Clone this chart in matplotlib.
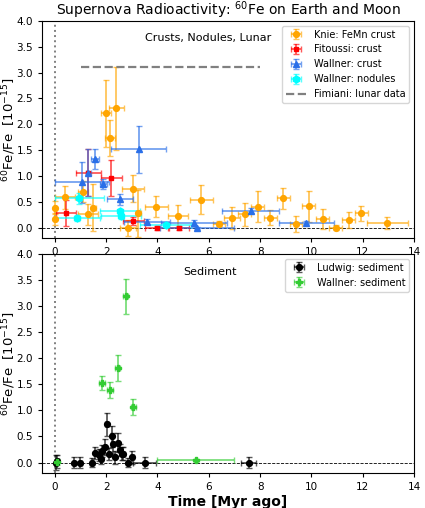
import matplotlib
matplotlib.use("Agg")
import matplotlib.pyplot as plt

# --- crusts / nodules / lunar ---
knie_t = [0.0, 0.0, 0.4, 1.1, 1.3, 1.5, 2.0, 2.15, 2.4, 2.85, 3.05, 3.25, 3.95, 4.8, 5.7,
          6.4, 6.9, 7.4, 7.9, 8.4, 8.9, 9.4, 9.9, 10.45, 10.95, 11.45, 11.95, 12.95]
knie_terr = [0.05, 0.05, 0.4, 0.2, 0.4, 0.1, 0.2, 0.2, 0.3, 0.3, 0.42, 0.1, 0.45, 0.4, 0.45,
             0.25, 0.3, 0.25, 0.25, 0.25, 0.25, 0.25, 0.25, 0.25, 0.25, 0.25, 0.25, 0.8]
knie_y = [0.39, 0.17, 0.59, 0.70, 0.26, 0.39, 2.21, 1.73, 2.31, 0.0, 0.76, 0.28, 0.41, 0.23, 0.54,
          0.08, 0.19, 0.26, 0.41, 0.20, 0.57, 0.08, 0.42, 0.17, 0.0, 0.15, 0.28, 0.10]
knie_yerr = [0.12, 0.12, 0.22, 0.2, 0.2, 0.45, 0.65, 0.35, 0.8, 0.15, 0.26, 0.45, 0.2, 0.22, 0.28,
             0.05, 0.22, 0.22, 0.3, 0.15, 0.2, 0.15, 0.3, 0.2, 0.05, 0.15, 0.15, 0.12]

fit_t = [0.43, 1.31, 2.2, 3.06, 3.97, 4.84]
fit_terr = [0.4, 0.47, 0.42, 0.42, 0.45, 0.4]
fit_y = [0.28, 1.07, 0.97, 0.14, 0.0, 0.0]
fit_yerr = [0.25, 0.45, 0.35, 0.08, 0.04, 0.04]

wcr_t = [1.05, 1.3, 1.57, 1.89, 2.54, 3.26, 3.58, 5.42, 5.55, 7.63, 9.8]
wcr_terr = [1.05, 0.1, 0.15, 0.15, 0.49, 1.09, 0.9, 1.3, 1.45, 1.1, 1.08]
wcr_y = [0.88, 1.07, 1.33, 0.85, 0.55, 1.52, 0.12, 0.10, 0.0, 0.33, 0.10]
wcr_yerr = [0.4, 0.45, 0.2, 0.1, 0.1, 0.45, 0.05, 0.05, 0.02, 0.05, 0.03]

wnod_t = [0.95, 0.88, 2.54, 2.57, 4.32]
wnod_terr = [0.95, 0.88, 0.78, 0.78, 1.0]
wnod_y = [0.57, 0.19, 0.32, 0.23, 0.06]
wnod_yerr = [0.1, 0.05, 0.05, 0.05, 0.03]

lunar_t = [1.0, 8.0]
lunar_y = 3.1

# --- sediment ---
lud_t = [0.05, 0.1, 0.75, 0.99, 1.43, 1.56, 1.72, 1.81, 1.85, 1.95, 2.02, 2.11, 2.22, 2.25,
         2.35, 2.46, 2.54, 2.61, 2.67, 2.85, 3.02, 3.5, 7.56]
lud_terr = [0.05, 0.05, 0.05, 0.05, 0.05, 0.05, 0.05, 0.05, 0.05, 0.05, 0.05, 0.05, 0.05, 0.05,
            0.05, 0.05, 0.05, 0.05, 0.05, 0.05, 0.05, 0.45, 0.3]
lud_y = [0.0, 0.02, 0.0, 0.0, 0.0, 0.18, 0.14, 0.07, 0.22, 0.30, 0.73, 0.16, 0.50, 0.36,
         0.10, 0.38, 0.24, 0.17, 0.17, 0.0, 0.10, 0.0, 0.0]
lud_yerr = [0.15, 0.12, 0.1, 0.1, 0.08, 0.12, 0.12, 0.1, 0.12, 0.15, 0.22, 0.12, 0.2, 0.2,
            0.12, 0.18, 0.12, 0.12, 0.12, 0.08, 0.12, 0.1, 0.1]

wsed_t = [0.09, 1.84, 2.15, 2.45, 2.76, 3.05, 5.49]
wsed_terr = [0.05, 0.13, 0.1, 0.1, 0.1, 0.1, 1.5]
wsed_y = [0.01, 1.53, 1.39, 1.82, 3.19, 1.07, 0.04]
wsed_yerr = [0.05, 0.13, 0.15, 0.25, 0.34, 0.15, 0.03]

BLUE = "#2a6fe8"
GREEN = "#33cc33"


def errplot(ax, t, y, terr, yerr, color, marker, label, ms=4.2):
    eb = ax.errorbar(t, y, xerr=terr, yerr=yerr, fmt=marker, color=color, ms=ms,
                     capsize=2, elinewidth=1.3, capthick=1.0, label=label)
    for c in eb[1]:
        c.set_alpha(0.65)
    for b in eb[2]:
        b.set_alpha(0.65)
    return eb


def style(ax):
    ax.axhline(0, color="black", ls="--", lw=0.6, zorder=0)
    ax.axvline(0, color="gray", ls=":", lw=1.4, zorder=0)
    ax.set_xlim(-0.5, 14)
    ax.set_ylim(-0.2, 4.0)
    ax.set_yticks([0, 0.5, 1.0, 1.5, 2.0, 2.5, 3.0, 3.5, 4.0])
    ax.set_xticks(range(0, 15, 2))
    ax.tick_params(labelsize=7.5, length=3)
    ax.set_ylabel(r"$^{60}$Fe/Fe  [10$^{-15}$]", fontsize=9.5)
    ax.yaxis.set_label_coords(-0.066, 0.5)


fig = plt.figure(figsize=(4.25, 5.08), dpi=100)
ax1 = fig.add_axes([0.099, 0.531, 0.875, 0.428])
ax2 = fig.add_axes([0.099, 0.069, 0.875, 0.431])

h1 = errplot(ax1, knie_t, knie_y, knie_terr, knie_yerr, "orange", "o", "Knie: FeMn crust")
h2 = errplot(ax1, fit_t, fit_y, fit_terr, fit_yerr, "red", "s", "Fitoussi: crust", ms=3.5)
h3 = errplot(ax1, wcr_t, wcr_y, wcr_terr, wcr_yerr, BLUE, "^", "Wallner: crust")
h4 = errplot(ax1, wnod_t, wnod_y, wnod_terr, wnod_yerr, "cyan", "h", "Wallner: nodules", ms=5)
h5, = ax1.plot(lunar_t, [lunar_y, lunar_y], color="gray", ls="--", lw=1.6,
               label="Fimiani: lunar data")
style(ax1)
ax1.text(3.5, 3.67, "Crusts, Nodules, Lunar", fontsize=8, va="center")
ax1.legend(handles=[h1, h2, h3, h4, h5], loc="upper right", fontsize=7)
ax1.set_title(r"Supernova Radioactivity: $^{60}$Fe on Earth and Moon", fontsize=10, pad=1)

errplot(ax2, lud_t, lud_y, lud_terr, lud_yerr, "black", "o", "Ludwig: sediment")
errplot(ax2, wsed_t, wsed_y, wsed_terr, wsed_yerr, GREEN, "P", "Wallner: sediment")
style(ax2)
ax2.text(5.0, 3.65, "Sediment", fontsize=8, va="center")
ax2.legend(loc="upper right", fontsize=7)
ax2.set_xlabel("Time [Myr ago]", fontsize=10, fontweight="bold", labelpad=2)

fig.savefig("out.png", dpi=100)
